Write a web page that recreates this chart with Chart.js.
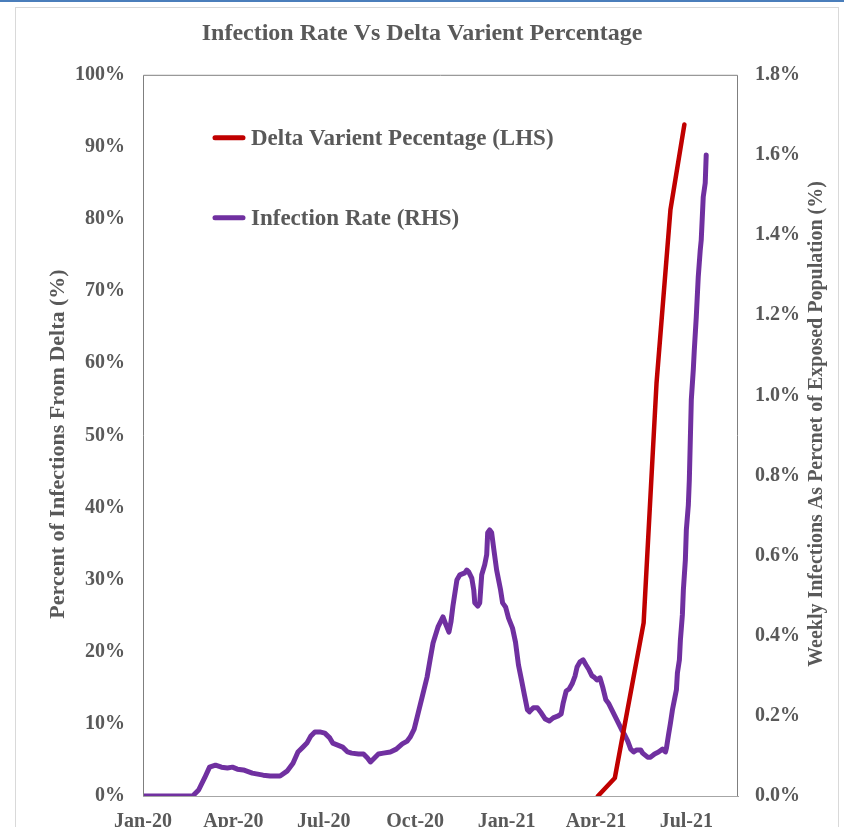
<!DOCTYPE html>
<html>
<head>
<meta charset="utf-8">
<script src="https://cdn.jsdelivr.net/npm/chart.js@4.4.1/dist/chart.umd.min.js"></script>
<style>
  html, body { margin: 0; padding: 0; background: #fff; }
  #wrap { position: relative; width: 844px; height: 827px; overflow: hidden; }
  #topline { position: absolute; left: 0; top: 0; width: 844px; height: 2px; background: #4a7ebb; }
  #frame { position: absolute; left: 15px; top: 7px; width: 822px; height: 900px; border: 1px solid #d9d9d9; }
  #myChart { position: absolute; left: 0; top: 0; }
</style>
</head>
<body>
<div id="wrap">
  <div id="topline"></div>
  <div id="frame"></div>
  <canvas id="myChart" width="844" height="827"></canvas>
</div>
<script>
// x values are days since 1 Jan 2020
var tickDays = [0, 91, 182, 274, 366, 456, 547];
var tickLabels = ['Jan-20', 'Apr-20', 'Jul-20', 'Oct-20', 'Jan-21', 'Apr-21', 'Jul-21'];
var leftTicks = [0, 10, 20, 30, 40, 50, 60, 70, 80, 90, 100];
var rightTicks = [0, 0.2, 0.4, 0.6, 0.8, 1.0, 1.2, 1.4, 1.6, 1.8];

var leftTitle = 'Percent of Infections From Delta (%)';
var rightTitle = 'Weekly Infections As Percnet of Exposed Population (%)';

// Delta variant share of infections (%), LHS
var deltaDays = [458, 475, 504, 517, 531, 545];
var deltaPct = [0, 2.5, 24.0, 57.3, 81.3, 93.1];

// weekly infections as % of exposed population, RHS
var infectionDays = [0, 50, 56, 62, 67, 73, 79, 85, 90, 95, 101, 110, 121, 128, 138, 145, 151, 156, 161, 165,
  169, 173, 178, 183, 188, 191, 196, 201, 206, 210, 217, 222, 226, 229, 233, 237, 242, 249, 255, 261,
  266, 269, 273, 277, 281, 286, 289, 292, 297, 302, 305, 308, 310, 312, 316, 319, 324, 326, 328, 331,
  333, 334, 337, 339, 341, 344, 346, 347, 349, 351, 353, 356, 360, 362, 365, 368, 372, 375, 378, 381,
  384, 387, 389, 393, 397, 401, 405, 409, 413, 418, 421, 423, 426, 429, 432, 435, 437, 440, 443, 446,
  449, 452, 454, 457, 460, 463, 466, 469, 472, 475, 479, 482, 485, 488, 491, 494, 497, 501, 503, 508,
  511, 515, 519, 523, 526, 527, 529, 531, 533, 535, 537, 538, 540, 541, 543, 544, 546, 547, 549, 550,
  551, 552, 554, 555, 557, 559, 561, 562, 564, 566, 567];
var infectionRate = [0, 0, 0.015, 0.045, 0.072, 0.077, 0.072, 0.070, 0.072, 0.067, 0.065, 0.057, 0.052, 0.050, 0.050, 0.062, 0.082, 0.110, 0.122, 0.132,
  0.150, 0.160, 0.160, 0.157, 0.145, 0.132, 0.127, 0.122, 0.110, 0.107, 0.105, 0.105, 0.095, 0.085, 0.095, 0.105, 0.107, 0.110, 0.117, 0.130,
  0.137, 0.147, 0.167, 0.207, 0.247, 0.297, 0.340, 0.382, 0.422, 0.447, 0.427, 0.409, 0.434, 0.474, 0.539, 0.552, 0.557, 0.564, 0.559, 0.544,
  0.514, 0.482, 0.474, 0.482, 0.552, 0.577, 0.602, 0.657, 0.664, 0.657, 0.619, 0.564, 0.514, 0.482, 0.472, 0.444, 0.419, 0.384, 0.327, 0.290,
  0.252, 0.215, 0.210, 0.220, 0.220, 0.207, 0.192, 0.187, 0.195, 0.200, 0.205, 0.232, 0.262, 0.267, 0.280, 0.300, 0.322, 0.335, 0.340, 0.327,
  0.315, 0.300, 0.297, 0.290, 0.295, 0.270, 0.240, 0.230, 0.215, 0.200, 0.180, 0.165, 0.152, 0.137, 0.117, 0.110, 0.115, 0.115, 0.107, 0.097,
  0.097, 0.105, 0.110, 0.117, 0.110, 0.120, 0.152, 0.182, 0.215, 0.240, 0.265, 0.307, 0.340, 0.389, 0.452, 0.514, 0.589, 0.664, 0.726, 0.789,
  0.889, 0.989, 1.064, 1.113, 1.196, 1.296, 1.363, 1.388, 1.495, 1.530, 1.600];

var SERIF = '"Liberation Serif", "Times New Roman", serif';
var GREY = '#595959';

function toPoints(xs, ys) {
  return xs.map(function (x, i) { return { x: x, y: ys[i] }; });
}

function drawVertical(ctx, text, x, y, size) {
  ctx.save();
  ctx.translate(x, y);
  ctx.rotate(-Math.PI / 2);
  ctx.font = 'bold ' + size + 'px ' + SERIF;
  ctx.fillStyle = GREY;
  ctx.textAlign = 'center';
  ctx.textBaseline = 'middle';
  ctx.fillText(text, 0, 0);
  ctx.restore();
}

// box round the plot area, both axis titles (both read bottom to top) and the legend inside the plot
var framePlugin = {
  id: 'frameAndLegend',
  afterDraw: function (chart) {
    var ctx = chart.ctx;
    var a = chart.chartArea;
    ctx.save();
    ctx.lineWidth = 1;
    ctx.strokeStyle = '#7f7f7f';
    ctx.beginPath();
    ctx.moveTo(a.left + 0.5, a.bottom);
    ctx.lineTo(a.left + 0.5, a.top + 0.5);
    ctx.lineTo(a.right - 0.5, a.top + 0.5);
    ctx.lineTo(a.right - 0.5, a.bottom);
    ctx.stroke();

    ctx.font = 'bold 23px ' + SERIF;
    ctx.textBaseline = 'middle';
    ctx.textAlign = 'left';
    chart.data.datasets.forEach(function (ds, i) {
      var y = a.top + 63 + i * 80;
      var x = a.left + 72;
      ctx.strokeStyle = ds.borderColor;
      ctx.lineWidth = 5;
      ctx.lineCap = 'round';
      ctx.beginPath();
      ctx.moveTo(x, y);
      ctx.lineTo(x + 28, y);
      ctx.stroke();
      ctx.fillStyle = GREY;
      ctx.fillText(ds.label, x + 36, y + 1);
    });
    ctx.restore();

    drawVertical(ctx, leftTitle, 58, 444, 22);
    drawVertical(ctx, rightTitle, 817, 424, 20);
  }
};

var ctx = document.getElementById('myChart').getContext('2d');
var myChart = new Chart(ctx, {
  type: 'line',
  data: {
    datasets: [{
      label: 'Delta Varient Pecentage (LHS)',
      data: toPoints(deltaDays, deltaPct),
      borderColor: '#C00000',
      borderWidth: 4.5,
      yAxisID: 'y'
    }, {
      label: 'Infection Rate (RHS)',
      data: toPoints(infectionDays, infectionRate),
      borderColor: '#7030A0',
      borderWidth: 5,
      yAxisID: 'y2'
    }]
  },
  options: {
    responsive: false,
    animation: false,
    parsing: false,
    layout: { padding: 0 },
    elements: {
      point: { radius: 0 },
      line: { tension: 0, borderCapStyle: 'round', borderJoinStyle: 'round' }
    },
    plugins: {
      legend: { display: false },
      tooltip: { enabled: false },
      title: {
        display: true,
        text: 'Infection Rate Vs Delta Varient Percentage',
        color: GREY,
        font: { family: SERIF, size: 24, weight: 'bold' },
        padding: { top: 19, bottom: 27 }
      }
    },
    scales: {
      x: {
        type: 'linear',
        min: 0,
        max: 599,
        grid: { display: false, drawTicks: false },
        border: { display: true, color: '#a6a6a6', width: 1 },
        afterBuildTicks: function (scale) {
          scale.ticks = tickDays.map(function (d) { return { value: d }; });
        },
        afterFit: function (scale) { scale.height = 31; },
        ticks: {
          autoSkip: false,
          maxRotation: 0,
          padding: 14,
          color: GREY,
          font: { family: SERIF, size: 20, weight: 'bold' },
          callback: function (v, i) { return tickLabels[i]; }
        }
      },
      y: {
        position: 'left',
        min: 0,
        max: 100,
        grid: { display: false, drawTicks: false },
        border: { display: false },
        afterBuildTicks: function (scale) {
          scale.ticks = leftTicks.map(function (v) { return { value: v }; });
        },
        afterFit: function (scale) { scale.width = 143; },
        ticks: {
          padding: 18,
          color: GREY,
          font: { family: SERIF, size: 20, weight: 'bold' },
          callback: function (v) { return v + '%'; }
        }
      },
      y2: {
        position: 'right',
        min: 0,
        max: 1.8,
        grid: { display: false, drawTicks: false },
        border: { display: false },
        afterBuildTicks: function (scale) {
          scale.ticks = rightTicks.map(function (v) { return { value: v }; });
        },
        afterFit: function (scale) { scale.width = 106; },
        ticks: {
          padding: 17,
          color: GREY,
          font: { family: SERIF, size: 20, weight: 'bold' },
          callback: function (v) { return v.toFixed(1) + '%'; }
        }
      }
    }
  },
  plugins: [framePlugin]
});
</script>
</body>
</html>
